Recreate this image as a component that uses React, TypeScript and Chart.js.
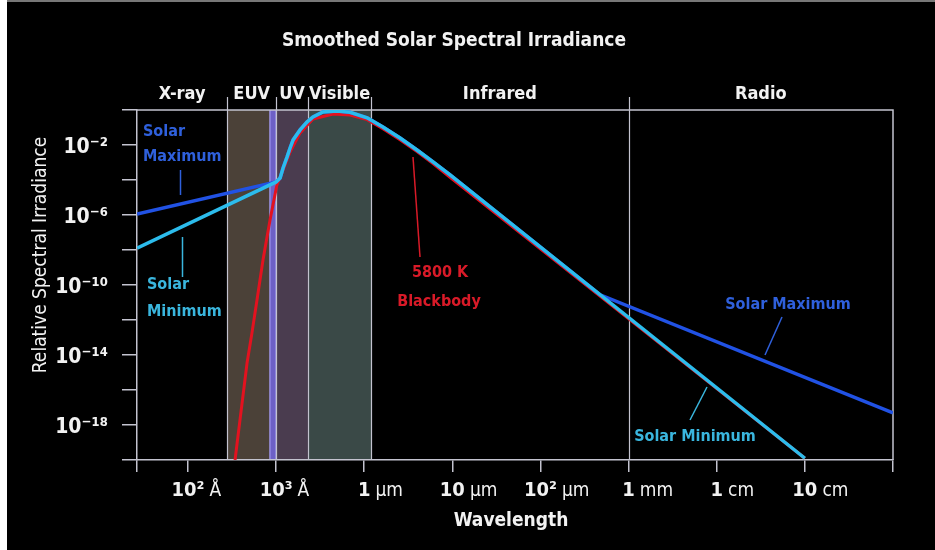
import React, { useEffect, useRef } from 'react';
import { Chart, registerables } from 'chart.js';

Chart.register(...registerables);

const FONT = '"DejaVu Sans Condensed", "Liberation Sans Narrow", "DejaVu Sans", sans-serif';

// ---- axes ----
const xMinValue = 2.64e-9;
const xMaxValue = 1;
const yMinValue = 1e-20;
const yMaxValue = 1;
const xTickValues = [2.64e-9, 1e-8, 1e-7, 1e-6, 1e-5, 1e-4, 1e-3, 1e-2, 1e-1, 1];
const xTickNumbers = ['', '10²', '10³', '1', '10', '10²', '1', '1', '10', ''];
const xTickUnits = ['', 'Å', 'Å', 'μm', 'μm', 'μm', 'mm', 'cm', 'cm', ''];
const yTickValues = [1e-20, 1e-18, 1e-16, 1e-14, 1e-12, 1e-10, 1e-8, 1e-6, 1e-4, 1e-2, 1];
const yTickLabels = ['', '10⁻¹⁸', '', '10⁻¹⁴', '', '10⁻¹⁰', '', '10⁻⁶', '', '10⁻²', ''];

// ---- spectral regions ----
const regionNames = ['X-ray', 'EUV', 'UV', 'Visible', 'Infrared', 'Radio'];
const regionEdges = [2.64e-9, 2.8e-8, 1.0e-7, 2.3e-7, 1.2e-6, 1e-3, 1];
const bandFrom = [2.8e-8, 8.5e-8, 1.0e-7, 2.3e-7];
const bandTo = [8.5e-8, 1.0e-7, 2.3e-7, 1.2e-6];
const bandColors = ['#4b4138', '#6d60c6', '#4a3c4f', '#3a4947'];

// ---- series (wavelength in m, relative irradiance) ----
const solarMinWavelength = [2.64e-9, 1.0e-7, 1.11e-7, 1.2e-7, 1.33e-7, 1.44e-7, 1.56e-7, 1.87e-7, 2.24e-7, 2.62e-7, 3.4e-7, 4.9e-7, 6.9e-7, 1.08e-6, 1.63e-6, 2.55e-6, 3.97e-6, 6.04e-6, 9.42e-6, 0.1];
const solarMinIrradiance = [1.29e-8, 7.76e-5, 1.29e-4, 4.9e-4, 2.04e-3, 6.76e-3, 1.95e-2, 7.24e-2, 0.204, 0.398, 0.776, 0.871, 0.74, 0.36, 0.107, 2.5e-2, 5.2e-3, 1.09e-3, 1.98e-4, 1.26e-20];

const solarMaxWavelength = [2.64e-9, 1.0e-7, 1.11e-7, 1.2e-7, 1.33e-7, 1.44e-7, 1.56e-7, 1.87e-7, 2.24e-7, 2.62e-7, 3.4e-7, 4.9e-7, 6.9e-7, 1.08e-6, 1.63e-6, 2.55e-6, 3.97e-6, 6.04e-6, 9.42e-6, 4.75e-4, 1];
const solarMaxIrradiance = [1.15e-6, 7.76e-5, 1.29e-4, 4.9e-4, 2.04e-3, 6.76e-3, 1.95e-2, 7.24e-2, 0.204, 0.398, 0.776, 0.871, 0.74, 0.36, 0.107, 2.5e-2, 5.2e-3, 1.09e-3, 1.98e-4, 2.75e-11, 5.0e-18];

const blackbodyWavelength = [3.42e-8, 4.68e-8, 5.32e-8, 6.07e-8, 7.1e-8, 8.53e-8, 1.02e-7, 1.2e-7, 1.44e-7, 1.87e-7, 2.62e-7, 4.43e-7, 6.9e-7, 1.08e-6, 1.63e-6, 2.55e-6, 3.97e-6, 6.04e-6, 9.42e-6, 0.1];
const blackbodyIrradiance = [1e-20, 3.47e-15, 1.82e-13, 1.38e-11, 2.69e-9, 5.13e-7, 5.13e-5, 3.72e-4, 3.98e-3, 4.9e-2, 0.309, 0.589, 0.513, 0.28, 8.5e-2, 2.0e-2, 4.2e-3, 8.7e-4, 1.41e-4, 1.26e-20];

const toPoints = (xs: number[], ys: number[]) => xs.map((x, i) => ({ x, y: ys[i] }));

const GRID = '#c3c3cf';
const BLUE = '#2152e4';
const CYAN = '#2cbcec';
const RED = '#e3121f';
const BLUE_TEXT = '#2f60dc';
const CYAN_TEXT = '#3ab6de';
const RED_TEXT = '#d91a28';

const decor = {
  id: 'decor',
  beforeDraw(chart: any) {
    const { ctx, chartArea: a, scales } = chart;
    const x = scales.x;
    ctx.save();
    ctx.fillStyle = '#ffffff';
    ctx.fillRect(0, 0, chart.width, chart.height);
    ctx.fillStyle = '#777777';
    ctx.fillRect(7, 0, chart.width - 7, 2);
    ctx.fillStyle = '#000000';
    ctx.fillRect(7, 2, chart.width - 7, chart.height - 2);
    bandFrom.forEach((f, i) => {
      const x0 = x.getPixelForValue(f);
      const x1 = x.getPixelForValue(bandTo[i]);
      ctx.fillStyle = bandColors[i];
      ctx.fillRect(x0, a.top, x1 - x0, a.bottom - a.top);
    });
    // lighter edges of the narrow violet strip
    ctx.strokeStyle = '#a69df2';
    ctx.lineWidth = 1.2;
    [bandFrom[1], bandTo[1]].forEach((v) => {
      const px = x.getPixelForValue(v);
      ctx.beginPath();
      ctx.moveTo(px, a.top);
      ctx.lineTo(px, a.bottom);
      ctx.stroke();
    });
    ctx.restore();
  },
  beforeDatasetsDraw(chart: any) {
    const { ctx, chartArea: a, scales } = chart;
    const x = scales.x;
    ctx.save();
    ctx.strokeStyle = GRID;
    ctx.lineWidth = 1.5;
    // top and right frame
    ctx.beginPath();
    ctx.moveTo(a.left, a.top);
    ctx.lineTo(a.right, a.top);
    ctx.lineTo(a.right, a.bottom);
    ctx.stroke();
    // region boundaries (rise a bit above the frame)
    ctx.lineWidth = 1.2;
    regionEdges.slice(1, -1).forEach((v) => {
      const px = Math.round(x.getPixelForValue(v)) + 0.5;
      ctx.beginPath();
      ctx.moveTo(px, a.top - 13);
      ctx.lineTo(px, a.bottom);
      ctx.stroke();
    });
    ctx.restore();
  },
  afterDraw(chart: any) {
    const { ctx, scales } = chart;
    const x = scales.x;
    ctx.save();
    ctx.textBaseline = 'middle';
    ctx.textAlign = 'center';
    ctx.fillStyle = '#f2f2f2';
    // title
    ctx.font = `bold 19px ${FONT}`;
    ctx.fillText('Smoothed Solar Spectral Irradiance', 454, 41);
    // region names
    ctx.font = `bold 18px ${FONT}`;
    regionNames.forEach((n, i) => {
      const cx = (x.getPixelForValue(regionEdges[i]) + x.getPixelForValue(regionEdges[i + 1])) / 2;
      ctx.fillText(n, cx, 94);
    });
    // x tick labels: bold number centred on tick, unit after it
    xTickNumbers.forEach((num, i) => {
      if (!num) return;
      const px = x.getPixelForValue(xTickValues[i]);
      ctx.font = `bold 20px ${FONT}`;
      const wn = ctx.measureText(num).width;
      ctx.textAlign = 'left';
      ctx.fillText(num, px - wn / 2, 491);
      ctx.font = `19px ${FONT}`;
      ctx.fillText(xTickUnits[i], px + wn / 2 + 5, 491);
    });
    // axis titles
    ctx.textAlign = 'center';
    ctx.font = `bold 19px ${FONT}`;
    ctx.fillText('Wavelength', 511, 521);
    ctx.save();
    ctx.translate(41, 255);
    ctx.rotate(-Math.PI / 2);
    ctx.font = `19px ${FONT}`;
    ctx.fillText('Relative Spectral Irradiance', 0, 0);
    ctx.restore();

    // annotations
    const line = (c: string, x0: number, y0: number, x1: number, y1: number) => {
      ctx.strokeStyle = c;
      ctx.lineWidth = 1.5;
      ctx.beginPath();
      ctx.moveTo(x0, y0);
      ctx.lineTo(x1, y1);
      ctx.stroke();
    };
    ctx.font = `bold 16px ${FONT}`;
    ctx.textAlign = 'left';
    ctx.fillStyle = BLUE_TEXT;
    ctx.fillText('Solar', 143, 132);
    ctx.fillText('Maximum', 143, 157);
    line(BLUE_TEXT, 180.5, 170, 180.5, 195);
    ctx.fillStyle = CYAN_TEXT;
    ctx.fillText('Solar', 147, 285);
    ctx.fillText('Minimum', 147, 312);
    line(CYAN_TEXT, 182.5, 237, 182.5, 277);
    ctx.textAlign = 'center';
    ctx.fillStyle = RED_TEXT;
    ctx.fillText('5800 K', 440, 273);
    ctx.fillText('Blackbody', 439, 302);
    line(RED_TEXT, 413, 157, 420, 257);
    ctx.fillStyle = BLUE_TEXT;
    ctx.fillText('Solar Maximum', 788, 305);
    line(BLUE_TEXT, 782, 317, 765, 355);
    ctx.fillStyle = CYAN_TEXT;
    ctx.fillText('Solar Minimum', 695, 437);
    line(CYAN_TEXT, 707, 387, 690, 420);
    ctx.restore();
  },
};

export default function App() {
  const ref = useRef<HTMLCanvasElement | null>(null);
  useEffect(() => {
    if (!ref.current) return;
    const chart = new Chart(ref.current, {
      type: 'line',
      data: {
        datasets: [
          {
            label: 'Solar Minimum',
            data: toPoints(solarMinWavelength, solarMinIrradiance),
            borderColor: CYAN,
            borderWidth: 3.5,
            pointRadius: 0,
            tension: 0,
            order: 0,
          },
          {
            label: 'Solar Maximum',
            data: toPoints(solarMaxWavelength, solarMaxIrradiance),
            borderColor: BLUE,
            borderWidth: 3.5,
            pointRadius: 0,
            tension: 0,
            order: 1,
          },
          {
            label: '5800 K Blackbody',
            data: toPoints(blackbodyWavelength, blackbodyIrradiance),
            borderColor: RED,
            borderWidth: 3,
            pointRadius: 0,
            tension: 0,
            order: 2,
          },
        ],
      },
      options: {
        responsive: false,
        animation: false,
        layout: { padding: { top: 110, right: 42, left: 0, bottom: 0 } },
        plugins: { legend: { display: false }, title: { display: false }, tooltip: { enabled: false } },
        scales: {
          x: {
            type: 'logarithmic',
            min: xMinValue,
            max: xMaxValue,
            afterBuildTicks: (s: any) => {
              s.ticks = xTickValues.map((v) => ({ value: v }));
            },
            afterFit: (s: any) => {
              s.height = 90;
            },
            ticks: { display: false },
            grid: { drawOnChartArea: false, drawTicks: true, tickLength: 12, color: GRID, lineWidth: 1.5 },
            border: { display: true, color: GRID, width: 1.5 },
          },
          y: {
            type: 'logarithmic',
            min: yMinValue,
            max: yMaxValue,
            afterBuildTicks: (s: any) => {
              s.ticks = yTickValues.map((v) => ({ value: v }));
            },
            afterFit: (s: any) => {
              s.width = 137;
            },
            ticks: {
              autoSkip: false,
              color: '#f2f2f2',
              padding: 14,
              labelOffset: 3,
              font: { family: FONT, size: 21, weight: 'bold' },
              callback: (_v: any, i: number) => yTickLabels[i],
            },
            grid: { drawOnChartArea: false, drawTicks: true, tickLength: 15, color: GRID, lineWidth: 1.5 },
            border: { display: true, color: GRID, width: 1.5 },
          },
        },
      },
      plugins: [decor],
    });
    return () => chart.destroy();
  }, []);
  return (
    <div style={{ position: 'absolute', left: 0, top: 0, width: 935, height: 550 }}>
      <canvas ref={ref} width={935} height={550} style={{ display: 'block', width: 935, height: 550 }} />
    </div>
  );
}
